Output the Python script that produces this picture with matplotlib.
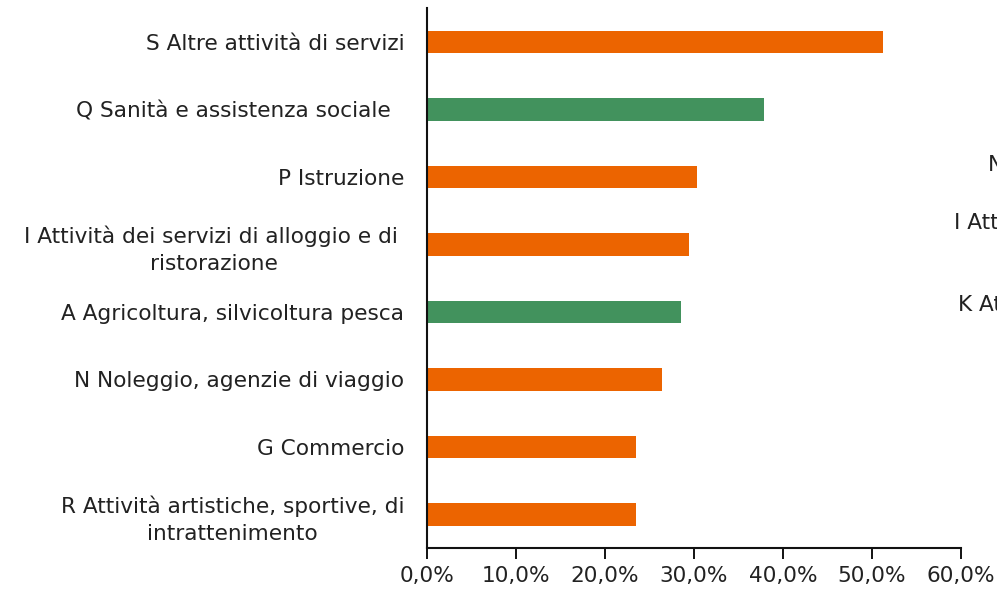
import matplotlib
matplotlib.use('Agg')
import matplotlib.pyplot as plt
from matplotlib.ticker import FuncFormatter

# sectors, from top to bottom
labels = ['S Altre attività di servizi',
          'Q Sanità e assistenza sociale  ',
          'P Istruzione',
          'I Attività dei servizi di alloggio e di \nristorazione',
          'A Agricoltura, silvicoltura pesca',
          'N Noleggio, agenzie di viaggio',
          'G Commercio',
          'R Attività artistiche, sportive, di\nintrattenimento']
values = [51.2, 37.9, 30.4, 29.4, 28.5, 26.4, 23.5, 23.5]
groups = ['o', 'g', 'o', 'o', 'g', 'o', 'o', 'o']
xticks = [0, 10, 20, 30, 40, 50, 60]

colors = {'o': '#EC6400', 'g': '#42925D'}

plt.rcParams['font.family'] = ['DejaVu Sans']
fs = 15.6

fig = plt.figure(figsize = (9.97, 5.90), dpi = 100)
ax = fig.add_axes([0.428, 0.071, 0.536, 0.915])

pos = list(range(len(labels)))[::-1]
ax.barh(pos, values, height = 0.33, color = [colors[g] for g in groups])

ax.set_ylim(-0.5, len(labels) - 0.5)
ax.set_xlim(0, 60)
ax.set_yticks(pos)
ax.set_yticklabels(labels, fontsize = fs, color = '#222222', multialignment = 'center', linespacing = 1.45)
ax.set_xticks(xticks)
ax.xaxis.set_major_formatter(FuncFormatter(lambda v, p: ('%.1f%%' % v).replace('.', ',')))
ax.tick_params(axis = 'x', length = 8, width = 1.3, labelsize = fs, labelcolor = '#222222', pad = 5)
ax.tick_params(axis = 'y', length = 0, pad = 16)

for s in ['top', 'right']:
  ax.spines[s].set_visible(False)
for s in ['left', 'bottom']:
  ax.spines[s].set_linewidth(1.5)
  ax.spines[s].set_color('#111111')

# labels of a neighbouring chart cut off at the right edge
fig.text(988 / 997, 1 - 165 / 590, 'N Noleggio, agenzie di viaggio', fontsize = fs, color = '#222222', va = 'center')
fig.text(954 / 997, 1 - 222 / 590, 'I Attività dei servizi di alloggio', fontsize = fs, color = '#222222', va = 'center')
fig.text(958 / 997, 1 - 305 / 590, 'K Attività finanziarie', fontsize = fs, color = '#222222', va = 'center')

fig.savefig('out.png', dpi = 100)
plt.close()
